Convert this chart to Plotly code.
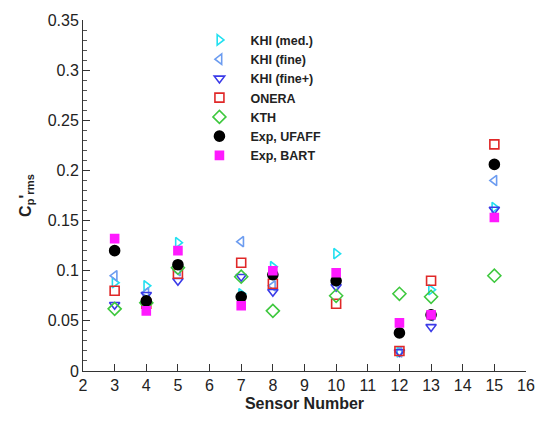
import plotly.graph_objects as go

sensors = [3, 4, 5, 7, 8, 10, 12, 13, 15]

khi_med = [0.088, 0.085, 0.128, 0.077, 0.104, 0.117, 0.019, 0.081, 0.163]
khi_fine = [0.095, 0.078, 0.100, 0.129, 0.085, 0.088, 0.019, 0.055, 0.190]
khi_fine_plus = [0.066, 0.076, 0.090, 0.094, 0.079, 0.084, 0.019, 0.044, 0.161]
onera = [0.080, 0.067, 0.097, 0.108, 0.087, 0.067, 0.020, 0.090, 0.226]
kth = [0.062, 0.068, 0.103, 0.094, 0.060, 0.075, 0.077, 0.074, 0.095]
exp_ufaff = [0.120, 0.070, 0.106, 0.074, 0.096, 0.090, 0.038, 0.056, 0.206]
exp_bart = [0.132, 0.060, 0.120, 0.065, 0.100, 0.098, 0.048, 0.056, 0.153]

series = [
    ("KHI (med.)", khi_med, "triangle-right-open", "#22e0f0", 9),
    ("KHI (fine)", khi_fine, "triangle-left-open", "#6c9cf0", 9),
    ("KHI (fine+)", khi_fine_plus, "triangle-down-open", "#3a3ae8", 9),
    ("ONERA", onera, "square-open", "#e02828", 9),
    ("KTH", kth, "diamond-open", "#3ec83e", 10),
    ("Exp, UFAFF", exp_ufaff, "circle", "#000000", 10),
    ("Exp, BART", exp_bart, "square", "#ff1aff", 8),
]

fig = go.Figure()
for name, vals, sym, col, sz in series:
    fig.add_trace(go.Scatter(
        x=sensors, y=vals, mode="markers", name=name,
        marker=dict(symbol=sym, color=col, size=sz, line=dict(color=col, width=1.6)),
    ))

font_family = "Liberation Sans, Arial, sans-serif"

fig.update_layout(
    width=547, height=421,
    margin=dict(l=83, r=16, t=15, b=47),
    paper_bgcolor="white", plot_bgcolor="white",
    font=dict(family=font_family, color="#222222"),
    showlegend=True,
    legend=dict(
        x=0.238, y=0.985, xanchor="left", yanchor="top",
        bgcolor="rgba(0,0,0,0)",
        font=dict(size=12.5, family=font_family, color="#222222", weight="bold"),
        itemwidth=52,
    ),
    xaxis=dict(
        range=[2, 16], dtick=1, tick0=2,
        showline=True, linecolor="#333333", linewidth=1,
        ticks="inside", ticklen=7, tickcolor="#333333",
        showgrid=False, zeroline=False,
        tickfont=dict(size=16, color="#222222"),
        title=dict(text="<b>Sensor Number</b>", font=dict(size=16, color="#222222"), standoff=4),
    ),
    yaxis=dict(
        range=[0, 0.35], dtick=0.05, tick0=0,
        showline=True, linecolor="#333333", linewidth=1,
        ticks="inside", ticklen=7, tickcolor="#333333",
        minor=dict(dtick=0.01, ticks="inside", ticklen=4, tickcolor="#555555"),
        showgrid=False, zeroline=False,
        tickfont=dict(size=16, color="#222222"),
        tickformat="~g",
        title=dict(text="<b>C<sub>p</sub>'<sub>rms</sub></b>", font=dict(size=16, color="#222222"), standoff=12),
    ),
)

fig.write_html("out.html")
